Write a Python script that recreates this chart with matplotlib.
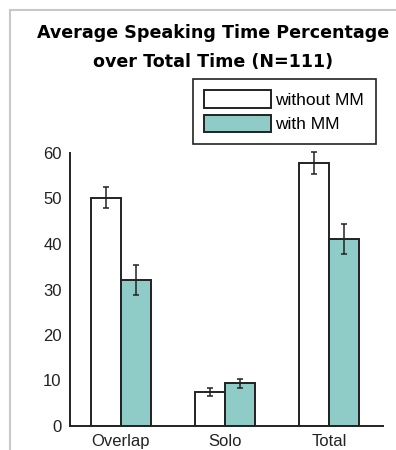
import matplotlib.pyplot as plt
import numpy as np

# data
categories = ['Overlap', 'Solo', 'Total']
without_mm = [50.2, 7.5, 57.8]
without_err = [2.3, 0.8, 2.4]
with_mm = [32.0, 9.4, 41.0]
with_err = [3.3, 1.0, 3.3]

teal = '#8fcbc7'
W, H = 396, 450

fig = plt.figure(figsize=(W / 100, H / 100), dpi=100)

# light grey frame around the chart
fig.add_artist(plt.Line2D([10 / W, 10 / W], [0, 1 - 10 / H], color='#c8c8c8', lw=1.5))
fig.add_artist(plt.Line2D([10 / W, 1], [1 - 10 / H, 1 - 10 / H], color='#c8c8c8', lw=1.5))

fig.text(213 / W, 1 - 33 / H, 'Average Speaking Time Percentage',
         ha='center', va='center', fontsize=12.6, fontweight='bold', family='DejaVu Sans')
fig.text(213 / W, 1 - 62 / H, 'over Total Time (N=111)',
         ha='center', va='center', fontsize=12.6, fontweight='bold', family='DejaVu Sans')

# axes: x from 70 to 383 px, y=0 at 426 px, y=60 at 153 px
ax = fig.add_axes([70 / W, (H - 426) / H, (383 - 70) / W, (426 - 153) / H])
x = np.arange(len(categories))
bw = 0.29
ekw = dict(ecolor='#222222', elinewidth=1.1, capsize=2.5, capthick=1.1)
b1 = ax.bar(x - bw / 2, without_mm, bw, color='white', edgecolor='#222222', lw=1.4,
            yerr=without_err, error_kw=ekw, label='without MM')
b2 = ax.bar(x + bw / 2, with_mm, bw, color=teal, edgecolor='#222222', lw=1.4,
            yerr=with_err, error_kw=ekw, label='with MM')
for c in (b1, b2):
    for ln in c.errorbar.lines[1] + c.errorbar.lines[2]:
        ln.set_clip_on(False)

ax.set_xlim(-0.49, 2.52)
ax.set_ylim(0, 60)
ax.set_yticks(range(0, 61, 10))
ax.set_xticks(x)
ax.set_xticklabels(categories)
for s in ['top', 'right']:
    ax.spines[s].set_visible(False)
for s in ['left', 'bottom']:
    ax.spines[s].set_color('#222222')
    ax.spines[s].set_linewidth(1.4)
ax.tick_params(length=0, labelsize=12, labelcolor='#222222', pad=6)
for lab in ax.get_xticklabels() + ax.get_yticklabels():
    lab.set_family('Liberation Sans')

# legend box
leg = ax.legend(loc='upper left', bbox_to_anchor=((193 - 70) / (383 - 70), (426 - 79) / (426 - 153)),
                frameon=True, fancybox=False, edgecolor='#222222', framealpha=1,
                prop={'family': 'Liberation Sans', 'size': 12.5},
                handlelength=3.85, handleheight=1.15, handletextpad=0.25,
                borderpad=0.65, labelspacing=0.4, borderaxespad=0)
leg.get_frame().set_linewidth(1.2)

fig.savefig('out.png', dpi=100)
